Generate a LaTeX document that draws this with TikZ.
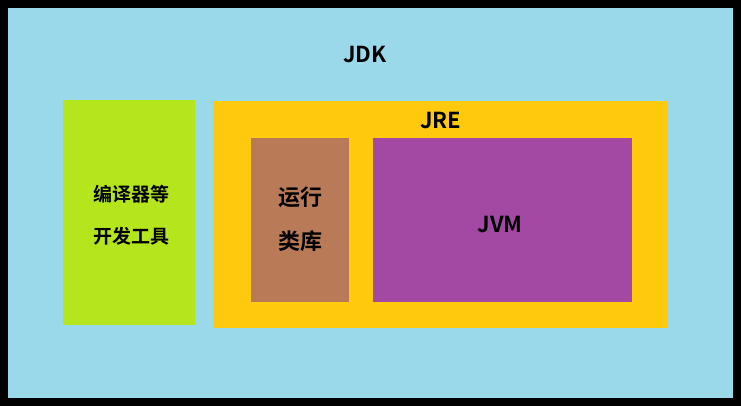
\documentclass[tikz,border=0pt]{standalone}
\usepackage{fontspec}
\setmainfont{Noto Sans CJK SC}[BoldFont={Noto Sans CJK SC Bold}]
\definecolor{bg}{HTML}{9AD9EA}
\definecolor{gr}{HTML}{B5E61D}
\definecolor{ye}{HTML}{FFC90E}
\definecolor{br}{HTML}{B97A57}
\definecolor{pu}{HTML}{A349A4}
\tikzset{box/.style={draw=none,inner sep=0pt,anchor=north west},
lbl/.style={font=\bfseries\fontsize{22}{26}\selectfont}}
\begin{document}
\begin{tikzpicture}[x=1pt,y=-1pt]
\useasboundingbox (0,0) rectangle (741,406);
\fill[black] (0,0) rectangle (741,406);
\fill[bg] (8,8) rectangle (733,398);
\fill[gr] (63,100) rectangle (195,325);
\fill[ye] (213,101) rectangle (668,328);
\fill[br] (251,138) rectangle (349,302);
\fill[pu] (373,138) rectangle (632,302);
\node[lbl] (jdk) at (365,55) {JDK};
\node[lbl] (jre) at (441,121) {JRE};
\node[lbl] (jvm) at (500,225) {JVM};
\node[font=\bfseries\fontsize{19}{42}\selectfont,align=center] (tools) at (131,215) {编译器等\\开发工具};
\node[font=\bfseries\fontsize{22}{44}\selectfont,align=center] (lib) at (300,219) {运行\\类库};
\end{tikzpicture}
\end{document}
